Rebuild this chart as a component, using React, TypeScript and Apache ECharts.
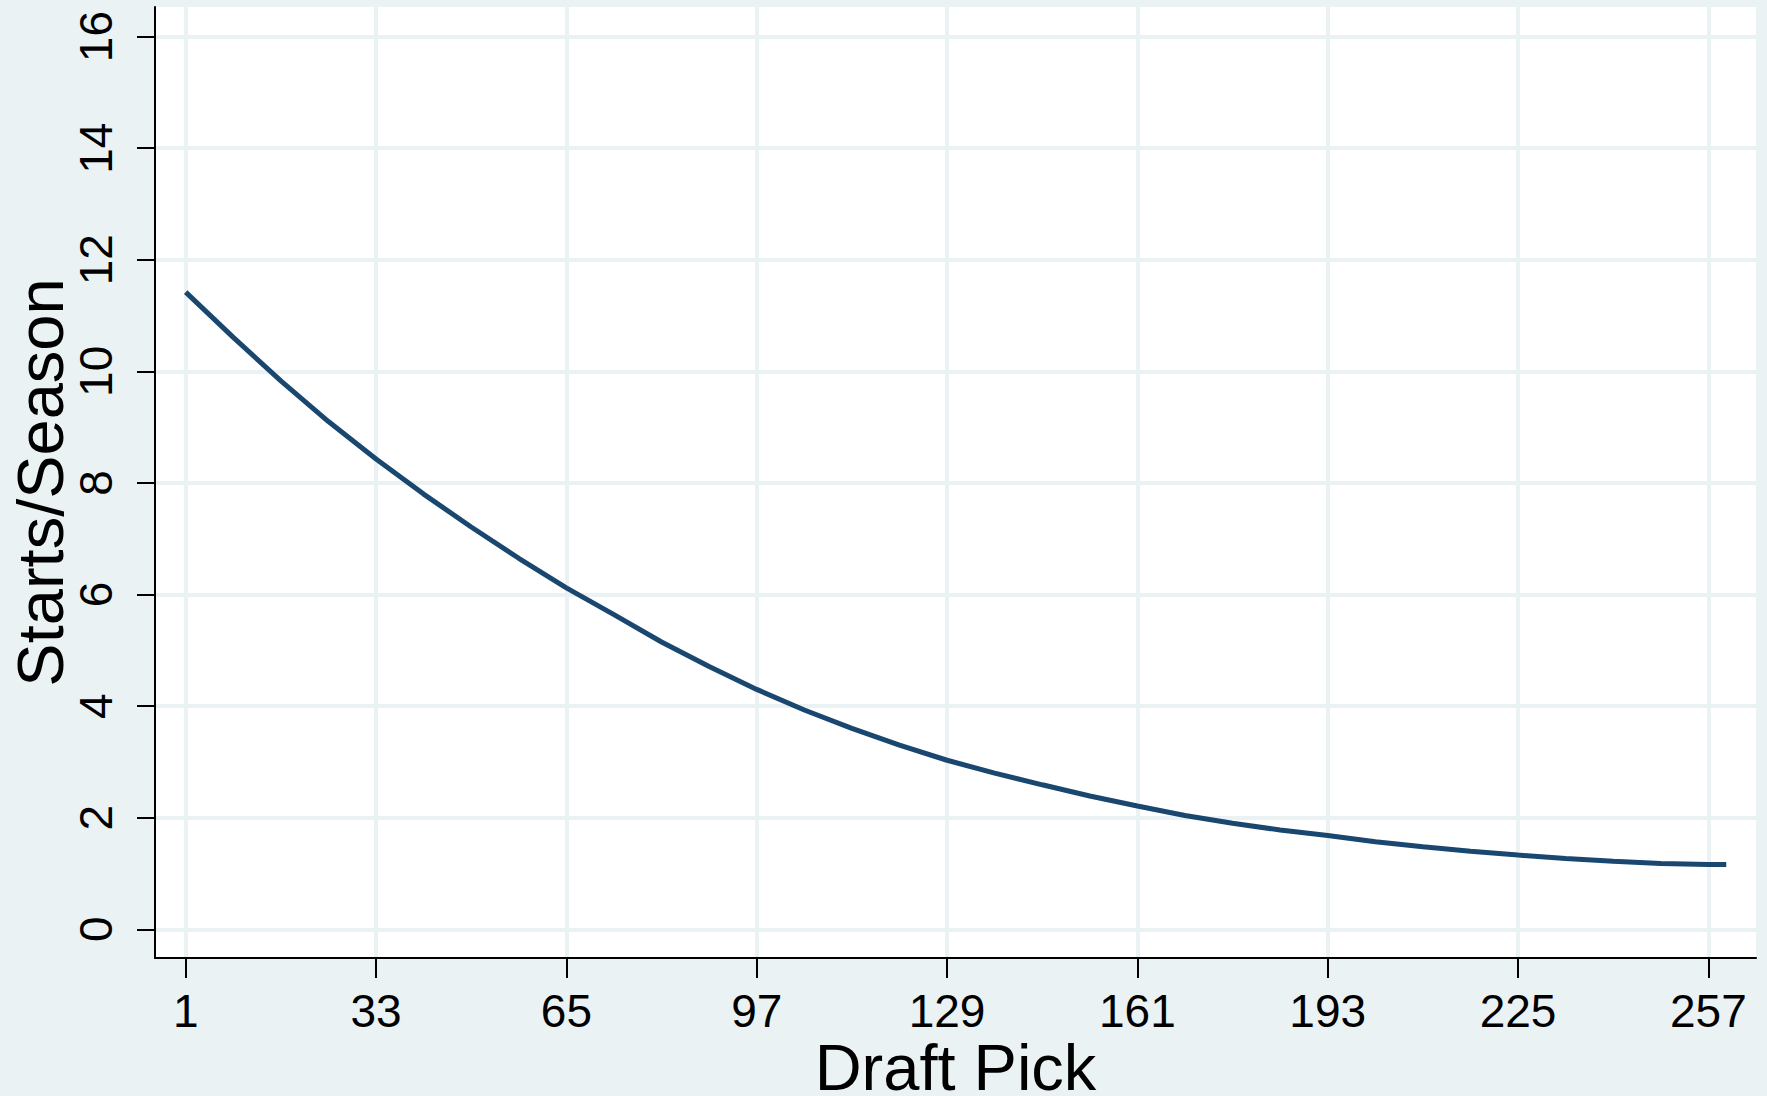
import React, { useEffect, useRef } from "react";
import * as echarts from "echarts";

const picks = [1, 9, 17, 25, 33, 41, 49, 57, 65, 73, 81, 89, 97, 105, 113, 121, 129, 137, 145, 153, 161, 169, 177, 185, 193, 201, 209, 217, 225, 233, 241, 249, 257, 260];
const startsPerSeason = [11.42, 10.61, 9.83, 9.1, 8.43, 7.8, 7.21, 6.65, 6.12, 5.64, 5.15, 4.71, 4.3, 3.93, 3.6, 3.3, 3.03, 2.8, 2.59, 2.39, 2.21, 2.04, 1.9, 1.78, 1.68, 1.57, 1.48, 1.4, 1.33, 1.27, 1.22, 1.18, 1.16, 1.16];
const xTickValues = [1, 33, 65, 97, 129, 161, 193, 225, 257];
const yTickValues = [0, 2, 4, 6, 8, 10, 12, 14, 16];

const BG = "#EAF2F3";
const FONT = "'Liberation Sans', Arial, Helvetica, sans-serif";

export default function App() {
  const ref = useRef<HTMLDivElement>(null);
  useEffect(() => {
    const chart = echarts.init(ref.current as HTMLDivElement, null, { renderer: "svg" });
    const data = picks.map((p, i) => [p, startsPerSeason[i]]);
    chart.setOption({
      animation: false,
      backgroundColor: BG,
      textStyle: { fontFamily: FONT },
      grid: {
        left: 155,
        top: 7,
        right: 11,
        bottom: 138,
        show: true,
        backgroundColor: "#ffffff",
        borderWidth: 0,
        containLabel: false,
        outerBoundsMode: "none",
      },
      xAxis: {
        type: "value",
        min: -4.16,
        max: 265,
        name: "Draft Pick",
        nameLocation: "middle",
        nameGap: 81,
        nameMoveOverlap: false,
        nameTextStyle: { fontSize: 65, lineHeight: 56, color: "#000", fontFamily: FONT },
        axisLine: { show: true, onZero: false, lineStyle: { color: "#000", width: 2 } },
        axisTick: { show: true, length: 20, customValues: xTickValues, lineStyle: { color: "#000", width: 2 } },
        axisLabel: { customValues: xTickValues, fontSize: 46, color: "#000", margin: 30, fontFamily: FONT },
        splitLine: { show: true, lineStyle: { color: BG, width: 4 } },
      },
      yAxis: {
        type: "value",
        min: -0.514,
        max: 16.53,
        name: "Starts/Season",
        nameLocation: "middle",
        nameGap: 87,
        nameRotate: 90,
        nameMoveOverlap: false,
        nameTextStyle: { fontSize: 65, lineHeight: 56, color: "#000", fontFamily: FONT },
        axisLine: { show: true, onZero: false, lineStyle: { color: "#000", width: 2 } },
        axisTick: { show: true, length: 18, customValues: yTickValues, lineStyle: { color: "#000", width: 2 } },
        axisLabel: { customValues: yTickValues, fontSize: 46, color: "#000", margin: 36, rotate: 90, fontFamily: FONT },
        splitLine: { show: true, lineStyle: { color: BG, width: 4 } },
      },
      series: [
        {
          type: "line",
          data,
          showSymbol: false,
          smooth: false,
          lineStyle: { color: "#1a476f", width: 5 },
          itemStyle: { color: "#1a476f" },
        },
      ],
    });
    return () => chart.dispose();
  }, []);
  return (
    <div
      ref={ref}
      style={{ position: "absolute", left: 0, top: 0, width: 1767, height: 1096 }}
    />
  );
}
